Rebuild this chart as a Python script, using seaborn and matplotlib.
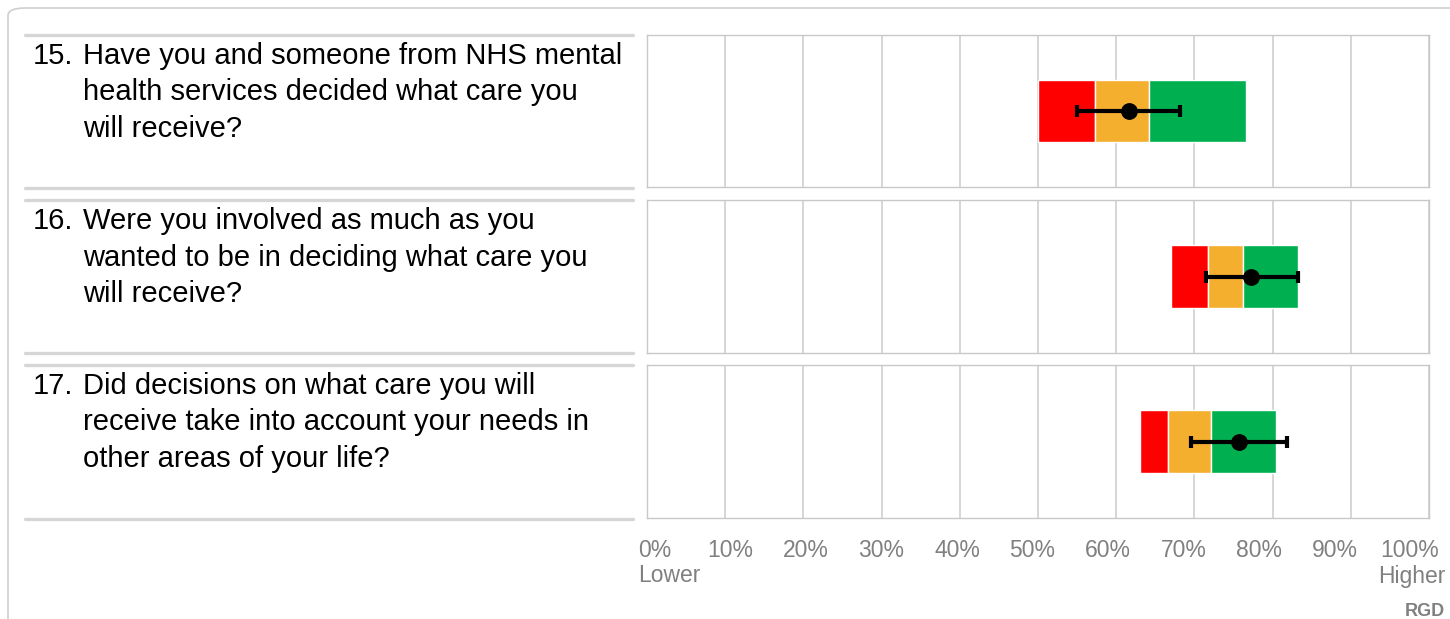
import matplotlib
matplotlib.use("Agg")
import matplotlib.pyplot as plt
import matplotlib.transforms as mtransforms
from matplotlib.patches import FancyBboxPatch
import seaborn as sns
import pandas as pd

# --- datos ---
numeros = ["15.", "16.", "17."]
preguntas = [
    ["Have you and someone from NHS mental", "health services decided what care you", "will receive?"],
    ["Were you involved as much as you", "wanted to be in deciding what care you", "will receive?"],
    ["Did decisions on what care you will", "receive take into account your needs in", "other areas of your life?"],
]
rojo_inicio = [50.0, 67.0, 63.0]
ambar_inicio = [57.3, 71.7, 66.6]
verde_inicio = [64.2, 76.2, 72.1]
verde_fin = [76.6, 83.3, 80.4]
puntuacion = [61.6, 77.3, 75.7]
ic_bajo = [55.0, 71.5, 69.6]
ic_alto = [68.2, 83.3, 81.9]
ticks = [0, 10, 20, 30, 40, 50, 60, 70, 80, 90, 100]
tick_labels = [f"{t}%" for t in ticks]

sns.set_theme(style="white")
plt.rcParams['font.family'] = ['Liberation Sans', 'DejaVu Sans']

W, H = 1450, 619
fig = plt.figure(figsize=(W / 100, H / 100), dpi=100)

# marco exterior redondeado
marco = FancyBboxPatch((8 / W, -0.05), 1.1, 1 - 8 / H + 0.05,
                       boxstyle="round,pad=0,rounding_size=0.012",
                       transform=fig.transFigure, fill=False,
                       edgecolor="#cfcfcf", linewidth=1.2)
fig.patches.append(marco)

ROJO, AMBAR, VERDE = "#FF0000", "#F5AF2F", "#00B050"
GRIS = "#808080"
panel_y = [(35, 187), (200, 353), (365, 518)]
x0, x1 = 647, 1429

def fy(py):
    return 1 - py / H

for i in range(3):
    top, bot = panel_y[i]
    ax = fig.add_axes([x0 / W, fy(bot), (x1 - x0) / W, (bot - top) / H])
    ax.set_xlim(0, 100)
    ax.set_ylim(-1, 1)

    df = pd.DataFrame({
        "inicio": [rojo_inicio[i], ambar_inicio[i], verde_inicio[i]],
        "fin": [ambar_inicio[i], verde_inicio[i], verde_fin[i]],
        "color": [ROJO, AMBAR, VERDE],
    })
    ax.barh([0] * 3, df["fin"] - df["inicio"], left=df["inicio"],
            height=0.82, color=df["color"], zorder=2)

    ax.errorbar([puntuacion[i]], [0],
                xerr=[[puntuacion[i] - ic_bajo[i]], [ic_alto[i] - puntuacion[i]]],
                fmt="none", ecolor="black", elinewidth=3.0, capsize=4.5,
                capthick=3.0, zorder=3)
    sns.scatterplot(x=[puntuacion[i]], y=[0], ax=ax, color="black", s=125,
                    edgecolor="black", zorder=4, legend=False)

    ax.set_xticks(ticks)
    ax.set_yticks([])
    ax.grid(axis="x", color="#d0d0d0", linewidth=1.2, zorder=0)
    for s in ax.spines.values():
        s.set_color("#c8c8c8")
        s.set_linewidth(1.0)
    ax.tick_params(axis="x", length=0)
    if i < 2:
        ax.set_xticklabels([])
    else:
        ax.set_xticklabels(tick_labels, fontsize=16.5, color=GRIS)
        ax.tick_params(axis="x", pad=15)
        for t, lab in zip(ticks, ax.get_xticklabels()):
            dx = (8 - 0.27 * t) / 100
            lab.set_transform(lab.get_transform() +
                              mtransforms.ScaledTranslation(dx, 0, fig.dpi_scale_trans))

    # texto de la pregunta
    fig.text(33 / W, fy(top + 29), numeros[i], fontsize=21, va="baseline",
             ha="left", color="black")
    for j, linea in enumerate(preguntas[i]):
        fig.text(83 / W, fy(top + 29 + 36.5 * j), linea, fontsize=21,
                 va="baseline", ha="left", color="black")

# líneas grises de separación a la izquierda
for py in [35, 188, 200, 353, 365, 519]:
    fig.add_artist(plt.Line2D([25 / W, 633 / W], [fy(py), fy(py)],
                              color="#d6d6d6", linewidth=2.4,
                              transform=fig.transFigure))

fig.text(638 / W, fy(576), "Lower", fontsize=16.5, color=GRIS, va="center", ha="left")
fig.text(1446 / W, fy(576), "Higher", fontsize=16.5, color=GRIS, va="center", ha="right")
fig.text(1405 / W, fy(611), "RGD", fontsize=13, color=GRIS, va="center",
         ha="left", fontweight="bold")

fig.savefig("out.png", dpi=100)
